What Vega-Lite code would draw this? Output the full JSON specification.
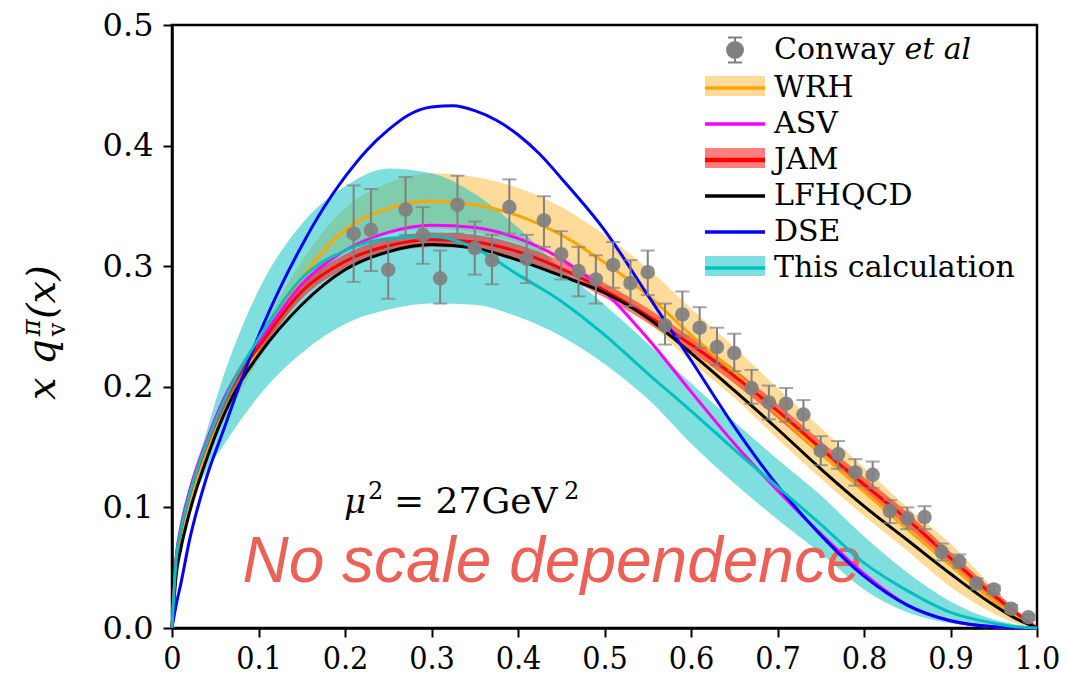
{
  "$schema": "https://vega.github.io/schema/vega-lite/v6.json",
  "width": 865,
  "height": 603,
  "autosize": "none",
  "padding": {"left": 172, "top": 25, "right": 30, "bottom": 50},
  "background": "white",
  "config": {
    "view": {"stroke": "black", "strokeWidth": 2.5},
    "axis": {
      "domainColor": "black", "domainWidth": 2.5, "tickColor": "black", "tickWidth": 2,
      "tickSize": 9, "labelColor": "black", "grid": false,
      "labelFontSize": 32, "labelFont": "DejaVu Serif"
    }
  },
  "datasets": {
    "curves": [
      {"series":"WRH","x":0,"y":0},{"series":"WRH","x":0.005,"y":0.05},{"series":"WRH","x":0.01,"y":0.07},{"series":"WRH","x":0.02,"y":0.1},{"series":"WRH","x":0.04,"y":0.145},{"series":"WRH","x":0.06,"y":0.178},{"series":"WRH","x":0.08,"y":0.205},{"series":"WRH","x":0.1,"y":0.232},{"series":"WRH","x":0.15,"y":0.29},{"series":"WRH","x":0.2,"y":0.33},{"series":"WRH","x":0.25,"y":0.348},{"series":"WRH","x":0.3,"y":0.354},{"series":"WRH","x":0.35,"y":0.351},{"series":"WRH","x":0.4,"y":0.342},{"series":"WRH","x":0.45,"y":0.326},{"series":"WRH","x":0.5,"y":0.303},{"series":"WRH","x":0.55,"y":0.276},{"series":"WRH","x":0.6,"y":0.243},{"series":"WRH","x":0.65,"y":0.212},{"series":"WRH","x":0.7,"y":0.178},{"series":"WRH","x":0.75,"y":0.145},{"series":"WRH","x":0.8,"y":0.113},{"series":"WRH","x":0.85,"y":0.082},{"series":"WRH","x":0.9,"y":0.052},{"series":"WRH","x":0.95,"y":0.022},{"series":"WRH","x":0.975,"y":0.009},{"series":"WRH","x":1,"y":0},
      {"series":"ASV","x":0,"y":0},{"series":"ASV","x":0.005,"y":0.06},{"series":"ASV","x":0.01,"y":0.083},{"series":"ASV","x":0.02,"y":0.113},{"series":"ASV","x":0.04,"y":0.155},{"series":"ASV","x":0.06,"y":0.19},{"series":"ASV","x":0.08,"y":0.215},{"series":"ASV","x":0.1,"y":0.236},{"series":"ASV","x":0.15,"y":0.285},{"series":"ASV","x":0.2,"y":0.313},{"series":"ASV","x":0.25,"y":0.328},{"series":"ASV","x":0.3,"y":0.334},{"series":"ASV","x":0.35,"y":0.332},{"series":"ASV","x":0.4,"y":0.323},{"series":"ASV","x":0.45,"y":0.306},{"series":"ASV","x":0.5,"y":0.279},{"series":"ASV","x":0.55,"y":0.24},{"series":"ASV","x":0.6,"y":0.196},{"series":"ASV","x":0.65,"y":0.153},{"series":"ASV","x":0.7,"y":0.114},{"series":"ASV","x":0.75,"y":0.078},{"series":"ASV","x":0.8,"y":0.045},{"series":"ASV","x":0.85,"y":0.019},{"series":"ASV","x":0.9,"y":0.006},{"series":"ASV","x":0.95,"y":0.001},{"series":"ASV","x":0.975,"y":0.0003},{"series":"ASV","x":1,"y":0},
      {"series":"JAM","x":0,"y":0},{"series":"JAM","x":0.005,"y":0.058},{"series":"JAM","x":0.01,"y":0.08},{"series":"JAM","x":0.02,"y":0.11},{"series":"JAM","x":0.04,"y":0.152},{"series":"JAM","x":0.06,"y":0.187},{"series":"JAM","x":0.08,"y":0.213},{"series":"JAM","x":0.1,"y":0.233},{"series":"JAM","x":0.15,"y":0.279},{"series":"JAM","x":0.2,"y":0.304},{"series":"JAM","x":0.25,"y":0.317},{"series":"JAM","x":0.3,"y":0.322},{"series":"JAM","x":0.35,"y":0.32},{"series":"JAM","x":0.4,"y":0.312},{"series":"JAM","x":0.45,"y":0.298},{"series":"JAM","x":0.5,"y":0.28},{"series":"JAM","x":0.55,"y":0.259},{"series":"JAM","x":0.6,"y":0.235},{"series":"JAM","x":0.65,"y":0.209},{"series":"JAM","x":0.7,"y":0.18},{"series":"JAM","x":0.75,"y":0.149},{"series":"JAM","x":0.8,"y":0.119},{"series":"JAM","x":0.85,"y":0.09},{"series":"JAM","x":0.9,"y":0.058},{"series":"JAM","x":0.95,"y":0.027},{"series":"JAM","x":0.975,"y":0.013},{"series":"JAM","x":1,"y":0},
      {"series":"LFHQCD","x":0,"y":0},{"series":"LFHQCD","x":0.005,"y":0.045},{"series":"LFHQCD","x":0.01,"y":0.065},{"series":"LFHQCD","x":0.02,"y":0.095},{"series":"LFHQCD","x":0.04,"y":0.14},{"series":"LFHQCD","x":0.06,"y":0.177},{"series":"LFHQCD","x":0.08,"y":0.205},{"series":"LFHQCD","x":0.1,"y":0.226},{"series":"LFHQCD","x":0.15,"y":0.268},{"series":"LFHQCD","x":0.2,"y":0.297},{"series":"LFHQCD","x":0.25,"y":0.312},{"series":"LFHQCD","x":0.3,"y":0.318},{"series":"LFHQCD","x":0.35,"y":0.315},{"series":"LFHQCD","x":0.4,"y":0.305},{"series":"LFHQCD","x":0.45,"y":0.292},{"series":"LFHQCD","x":0.5,"y":0.278},{"series":"LFHQCD","x":0.55,"y":0.257},{"series":"LFHQCD","x":0.6,"y":0.228},{"series":"LFHQCD","x":0.65,"y":0.197},{"series":"LFHQCD","x":0.7,"y":0.165},{"series":"LFHQCD","x":0.75,"y":0.132},{"series":"LFHQCD","x":0.8,"y":0.101},{"series":"LFHQCD","x":0.85,"y":0.073},{"series":"LFHQCD","x":0.9,"y":0.045},{"series":"LFHQCD","x":0.95,"y":0.019},{"series":"LFHQCD","x":0.975,"y":0.008},{"series":"LFHQCD","x":1,"y":0},
      {"series":"DSE","x":0,"y":0},{"series":"DSE","x":0.005,"y":0.02},{"series":"DSE","x":0.01,"y":0.036},{"series":"DSE","x":0.02,"y":0.072},{"series":"DSE","x":0.04,"y":0.125},{"series":"DSE","x":0.06,"y":0.165},{"series":"DSE","x":0.08,"y":0.205},{"series":"DSE","x":0.1,"y":0.242},{"series":"DSE","x":0.125,"y":0.282},{"series":"DSE","x":0.15,"y":0.317},{"series":"DSE","x":0.175,"y":0.348},{"series":"DSE","x":0.2,"y":0.374},{"series":"DSE","x":0.225,"y":0.396},{"series":"DSE","x":0.25,"y":0.413},{"series":"DSE","x":0.275,"y":0.426},{"series":"DSE","x":0.3,"y":0.432},{"series":"DSE","x":0.325,"y":0.433},{"series":"DSE","x":0.35,"y":0.429},{"series":"DSE","x":0.375,"y":0.421},{"series":"DSE","x":0.4,"y":0.409},{"series":"DSE","x":0.425,"y":0.393},{"series":"DSE","x":0.45,"y":0.373},{"series":"DSE","x":0.5,"y":0.33},{"series":"DSE","x":0.55,"y":0.276},{"series":"DSE","x":0.6,"y":0.222},{"series":"DSE","x":0.65,"y":0.167},{"series":"DSE","x":0.7,"y":0.118},{"series":"DSE","x":0.75,"y":0.077},{"series":"DSE","x":0.8,"y":0.043},{"series":"DSE","x":0.85,"y":0.019},{"series":"DSE","x":0.9,"y":0.006},{"series":"DSE","x":0.95,"y":0.001},{"series":"DSE","x":0.975,"y":0.0002},{"series":"DSE","x":1,"y":0},
      {"series":"This calculation","x":0,"y":0},{"series":"This calculation","x":0.005,"y":0.058},{"series":"This calculation","x":0.01,"y":0.08},{"series":"This calculation","x":0.02,"y":0.11},{"series":"This calculation","x":0.04,"y":0.153},{"series":"This calculation","x":0.06,"y":0.188},{"series":"This calculation","x":0.08,"y":0.216},{"series":"This calculation","x":0.1,"y":0.24},{"series":"This calculation","x":0.15,"y":0.29},{"series":"This calculation","x":0.2,"y":0.313},{"series":"This calculation","x":0.25,"y":0.323},{"series":"This calculation","x":0.3,"y":0.325},{"series":"This calculation","x":0.35,"y":0.315},{"series":"This calculation","x":0.4,"y":0.293},{"series":"This calculation","x":0.45,"y":0.271},{"series":"This calculation","x":0.5,"y":0.243},{"series":"This calculation","x":0.55,"y":0.211},{"series":"This calculation","x":0.6,"y":0.18},{"series":"This calculation","x":0.65,"y":0.148},{"series":"This calculation","x":0.7,"y":0.117},{"series":"This calculation","x":0.75,"y":0.086},{"series":"This calculation","x":0.8,"y":0.054},{"series":"This calculation","x":0.85,"y":0.031},{"series":"This calculation","x":0.9,"y":0.013},{"series":"This calculation","x":0.95,"y":0.004},{"series":"This calculation","x":0.975,"y":0.001},{"series":"This calculation","x":1,"y":0}
    ],
    "bands": [
      {"band":"WRH band","x":0,"lo":0,"hi":0},{"band":"WRH band","x":0.005,"lo":0.047,"hi":0.053},{"band":"WRH band","x":0.01,"lo":0.066,"hi":0.074},{"band":"WRH band","x":0.02,"lo":0.095,"hi":0.105},{"band":"WRH band","x":0.04,"lo":0.139,"hi":0.151},{"band":"WRH band","x":0.06,"lo":0.171,"hi":0.185},{"band":"WRH band","x":0.08,"lo":0.197,"hi":0.213},{"band":"WRH band","x":0.1,"lo":0.222,"hi":0.242},{"band":"WRH band","x":0.15,"lo":0.276,"hi":0.304},{"band":"WRH band","x":0.2,"lo":0.312,"hi":0.348},{"band":"WRH band","x":0.25,"lo":0.327,"hi":0.369},{"band":"WRH band","x":0.3,"lo":0.331,"hi":0.377},{"band":"WRH band","x":0.35,"lo":0.328,"hi":0.374},{"band":"WRH band","x":0.4,"lo":0.319,"hi":0.365},{"band":"WRH band","x":0.45,"lo":0.303,"hi":0.349},{"band":"WRH band","x":0.5,"lo":0.28,"hi":0.326},{"band":"WRH band","x":0.55,"lo":0.254,"hi":0.298},{"band":"WRH band","x":0.6,"lo":0.221,"hi":0.265},{"band":"WRH band","x":0.65,"lo":0.191,"hi":0.233},{"band":"WRH band","x":0.7,"lo":0.157,"hi":0.199},{"band":"WRH band","x":0.75,"lo":0.124,"hi":0.166},{"band":"WRH band","x":0.8,"lo":0.093,"hi":0.133},{"band":"WRH band","x":0.85,"lo":0.064,"hi":0.1},{"band":"WRH band","x":0.9,"lo":0.034,"hi":0.07},{"band":"WRH band","x":0.95,"lo":0.012,"hi":0.033},{"band":"WRH band","x":0.975,"lo":0.004,"hi":0.015},{"band":"WRH band","x":1,"lo":0,"hi":0},
      {"band":"This calculation band","x":0,"lo":0,"hi":0},{"band":"This calculation band","x":0.005,"lo":0.05,"hi":0.06},{"band":"This calculation band","x":0.01,"lo":0.07,"hi":0.083},{"band":"This calculation band","x":0.02,"lo":0.098,"hi":0.115},{"band":"This calculation band","x":0.04,"lo":0.13,"hi":0.163},{"band":"This calculation band","x":0.06,"lo":0.152,"hi":0.21},{"band":"This calculation band","x":0.08,"lo":0.173,"hi":0.248},{"band":"This calculation band","x":0.1,"lo":0.192,"hi":0.28},{"band":"This calculation band","x":0.15,"lo":0.228,"hi":0.335},{"band":"This calculation band","x":0.2,"lo":0.252,"hi":0.366},{"band":"This calculation band","x":0.25,"lo":0.264,"hi":0.381},{"band":"This calculation band","x":0.3,"lo":0.269,"hi":0.377},{"band":"This calculation band","x":0.35,"lo":0.268,"hi":0.36},{"band":"This calculation band","x":0.4,"lo":0.258,"hi":0.332},{"band":"This calculation band","x":0.45,"lo":0.242,"hi":0.298},{"band":"This calculation band","x":0.5,"lo":0.219,"hi":0.268},{"band":"This calculation band","x":0.55,"lo":0.19,"hi":0.236},{"band":"This calculation band","x":0.6,"lo":0.153,"hi":0.203},{"band":"This calculation band","x":0.65,"lo":0.12,"hi":0.171},{"band":"This calculation band","x":0.7,"lo":0.09,"hi":0.14},{"band":"This calculation band","x":0.75,"lo":0.062,"hi":0.11},{"band":"This calculation band","x":0.8,"lo":0.032,"hi":0.076},{"band":"This calculation band","x":0.85,"lo":0.013,"hi":0.046},{"band":"This calculation band","x":0.9,"lo":0.004,"hi":0.022},{"band":"This calculation band","x":0.95,"lo":0.001,"hi":0.007},{"band":"This calculation band","x":0.975,"lo":0.0003,"hi":0.003},{"band":"This calculation band","x":1,"lo":0,"hi":0},
      {"band":"JAM band","x":0,"lo":0,"hi":0},{"band":"JAM band","x":0.005,"lo":0.054,"hi":0.062},{"band":"JAM band","x":0.01,"lo":0.075,"hi":0.085},{"band":"JAM band","x":0.02,"lo":0.104,"hi":0.116},{"band":"JAM band","x":0.04,"lo":0.146,"hi":0.158},{"band":"JAM band","x":0.06,"lo":0.181,"hi":0.193},{"band":"JAM band","x":0.08,"lo":0.207,"hi":0.219},{"band":"JAM band","x":0.1,"lo":0.227,"hi":0.239},{"band":"JAM band","x":0.15,"lo":0.273,"hi":0.285},{"band":"JAM band","x":0.2,"lo":0.298,"hi":0.31},{"band":"JAM band","x":0.25,"lo":0.311,"hi":0.323},{"band":"JAM band","x":0.3,"lo":0.316,"hi":0.328},{"band":"JAM band","x":0.35,"lo":0.314,"hi":0.326},{"band":"JAM band","x":0.4,"lo":0.306,"hi":0.318},{"band":"JAM band","x":0.45,"lo":0.292,"hi":0.304},{"band":"JAM band","x":0.5,"lo":0.274,"hi":0.286},{"band":"JAM band","x":0.55,"lo":0.253,"hi":0.265},{"band":"JAM band","x":0.6,"lo":0.229,"hi":0.241},{"band":"JAM band","x":0.65,"lo":0.203,"hi":0.215},{"band":"JAM band","x":0.7,"lo":0.174,"hi":0.186},{"band":"JAM band","x":0.75,"lo":0.143,"hi":0.155},{"band":"JAM band","x":0.8,"lo":0.113,"hi":0.125},{"band":"JAM band","x":0.85,"lo":0.084,"hi":0.096},{"band":"JAM band","x":0.9,"lo":0.053,"hi":0.063},{"band":"JAM band","x":0.95,"lo":0.023,"hi":0.031},{"band":"JAM band","x":0.975,"lo":0.01,"hi":0.016},{"band":"JAM band","x":1,"lo":0,"hi":0}
    ],
    "conway": [
      {"x":0.21,"y":0.327,"lo":0.287,"hi":0.367},{"x":0.23,"y":0.33,"lo":0.296,"hi":0.364},{"x":0.25,"y":0.297,"lo":0.273,"hi":0.322},{"x":0.27,"y":0.347,"lo":0.326,"hi":0.374},{"x":0.29,"y":0.326,"lo":0.302,"hi":0.349},{"x":0.31,"y":0.29,"lo":0.269,"hi":0.313},{"x":0.33,"y":0.351,"lo":0.327,"hi":0.375},{"x":0.35,"y":0.315,"lo":0.293,"hi":0.337},{"x":0.37,"y":0.305,"lo":0.285,"hi":0.326},{"x":0.39,"y":0.349,"lo":0.327,"hi":0.372},
      {"x":0.41,"y":0.306,"lo":0.286,"hi":0.326},{"x":0.43,"y":0.338,"lo":0.316,"hi":0.358},{"x":0.45,"y":0.31,"lo":0.289,"hi":0.329},{"x":0.47,"y":0.296,"lo":0.275,"hi":0.316},{"x":0.49,"y":0.289,"lo":0.269,"hi":0.309},{"x":0.51,"y":0.301,"lo":0.282,"hi":0.32},{"x":0.53,"y":0.286,"lo":0.267,"hi":0.305},{"x":0.55,"y":0.295,"lo":0.276,"hi":0.313},{"x":0.57,"y":0.251,"lo":0.235,"hi":0.269},{"x":0.59,"y":0.26,"lo":0.242,"hi":0.279},
      {"x":0.61,"y":0.249,"lo":0.232,"hi":0.266},{"x":0.63,"y":0.233,"lo":0.218,"hi":0.249},{"x":0.65,"y":0.228,"lo":0.213,"hi":0.244},{"x":0.67,"y":0.199,"lo":0.186,"hi":0.214},{"x":0.69,"y":0.187,"lo":0.173,"hi":0.201},{"x":0.71,"y":0.186,"lo":0.171,"hi":0.199},{"x":0.73,"y":0.177,"lo":0.164,"hi":0.189},{"x":0.75,"y":0.147,"lo":0.135,"hi":0.159},{"x":0.77,"y":0.144,"lo":0.132,"hi":0.155},{"x":0.79,"y":0.129,"lo":0.118,"hi":0.14},
      {"x":0.81,"y":0.127,"lo":0.116,"hi":0.138},{"x":0.83,"y":0.097,"lo":0.087,"hi":0.106},{"x":0.85,"y":0.091,"lo":0.082,"hi":0.1},{"x":0.87,"y":0.092,"lo":0.082,"hi":0.101},{"x":0.89,"y":0.063,"lo":0.056,"hi":0.07},{"x":0.91,"y":0.055,"lo":0.05,"hi":0.061},{"x":0.93,"y":0.037,"lo":0.032,"hi":0.041},{"x":0.95,"y":0.032,"lo":0.028,"hi":0.035},{"x":0.97,"y":0.016,"lo":0.013,"hi":0.019},{"x":0.99,"y":0.009,"lo":0.007,"hi":0.011}
    ]
  },
  "layer": [
    {
      "data": {"name": "bands"},
      "transform": [{"filter": "datum.band === 'WRH band'"}],
      "mark": {"type": "area", "interpolate": "monotone", "opacity": 1},
      "encoding": {
        "x": {"field": "x", "type": "quantitative", "scale": {"domain": [0, 1], "nice": false, "zero": false},
              "axis": {"title": null, "values": [0, 0.1, 0.2, 0.3, 0.4, 0.5, 0.6, 0.7, 0.8, 0.9, 1.0],
                       "labelExpr": "datum.value === 0 ? '0' : format(datum.value, '.1f')",
                       "labelFont": "DejaVu Serif Condensed", "labelFlush": false, "labelOverlap": false, "labelPadding": 6}},
        "y": {"field": "lo", "type": "quantitative", "scale": {"domain": [0, 0.5], "nice": false},
              "axis": {"title": null, "values": [0, 0.1, 0.2, 0.3, 0.4, 0.5], "format": ".1f", "labelPadding": 10, "labelFlush": false, "labelOverlap": false}},
        "y2": {"field": "hi"},
        "fill": {"datum": "WRH band",
                 "scale": {"domain": ["conway band", "WRH band", "ASV band", "JAM band", "LFHQCD band", "DSE band", "This calculation band"],
                           "range": ["transparent", "rgba(255,165,0,0.4)", "transparent", "rgba(255,0,0,0.5)", "transparent", "transparent", "rgba(0,191,191,0.5)"]},
                 "legend": {"orient": "none", "legendX": 548, "legendY": 10, "title": null, "padding": 0,
                            "symbolType": "M-3,-1H3V1H-3Z", "symbolSize": 400, "symbolStrokeWidth": 0, "symbolOpacity": 1,
                            "labelFont": "DejaVu Serif", "labelFontSize": 30, "labelOffset": 24, "labelOpacity": 0,
                            "labelExpr": "' '", "rowPadding": 6, "zindex": 1}}
      }
    },
    {
      "data": {"name": "bands"},
      "transform": [{"filter": "datum.band === 'This calculation band'"}],
      "mark": {"type": "area", "interpolate": "monotone", "opacity": 1},
      "encoding": {
        "x": {"field": "x", "type": "quantitative"},
        "y": {"field": "lo", "type": "quantitative"},
        "y2": {"field": "hi"},
        "fill": {"datum": "This calculation band"}
      }
    },
    {
      "data": {"name": "bands"},
      "transform": [{"filter": "datum.band === 'JAM band'"}],
      "mark": {"type": "area", "interpolate": "monotone", "opacity": 1},
      "encoding": {
        "x": {"field": "x", "type": "quantitative"},
        "y": {"field": "lo", "type": "quantitative"},
        "y2": {"field": "hi"},
        "fill": {"datum": "JAM band"}
      }
    },
    {
      "data": {"values": [{}]},
      "mark": {"type": "text", "text": "No scale dependence", "font": "Liberation Sans", "fontStyle": "italic",
               "fontSize": 64, "color": "#eb6158", "align": "center", "baseline": "alphabetic"},
      "encoding": {"x": {"datum": 0.4393}, "y": {"datum": 0.0381}}
    },
    {
      "data": {"values": [{}]},
      "mark": {"type": "text", "text": "μ", "font": "DejaVu Serif", "fontStyle": "italic", "fontSize": 34, "color": "black", "align": "left", "baseline": "alphabetic"},
      "encoding": {"x": {"datum": 0.1988}, "y": {"datum": 0.0955}}
    },
    {
      "data": {"values": [{}]},
      "mark": {"type": "text", "text": "2", "font": "DejaVu Serif", "fontSize": 24, "color": "black", "align": "left", "baseline": "alphabetic"},
      "encoding": {"x": {"datum": 0.2266}, "y": {"datum": 0.107}}
    },
    {
      "data": {"values": [{}]},
      "mark": {"type": "text", "text": "= 27GeV", "font": "DejaVu Serif", "fontSize": 36, "color": "black", "align": "left", "baseline": "alphabetic"},
      "encoding": {"x": {"datum": 0.2566}, "y": {"datum": 0.0955}}
    },
    {
      "data": {"values": [{}]},
      "mark": {"type": "text", "text": "2", "font": "DejaVu Serif", "fontSize": 24, "color": "black", "align": "left", "baseline": "alphabetic"},
      "encoding": {"x": {"datum": 0.4532}, "y": {"datum": 0.107}}
    },
    {
      "data": {"name": "curves"},
      "mark": {"type": "line", "interpolate": "monotone"},
      "encoding": {
        "x": {"field": "x", "type": "quantitative"},
        "y": {"field": "y", "type": "quantitative"},
        "stroke": {"field": "series", "type": "nominal",
                   "scale": {"domain": ["Conway et al", "WRH", "ASV", "JAM", "LFHQCD", "DSE", "This calculation"],
                             "range": ["#808080", "#ffa500", "#ff00ff", "#ff0000", "#000000", "#0000ff", "#00bfbf"]},
                   "legend": {"orient": "none", "legendX": 548, "legendY": 10, "title": null, "padding": 0,
                              "symbolType": "M-3,0H3", "symbolSize": 400, "symbolStrokeWidth": 3,
                              "labelFont": "DejaVu Serif", "labelFontSize": 30, "labelColor": "black", "labelOffset": 24, "labelLimit": 400,
                              "labelExpr": "datum.label === 'Conway et al' ? 'Conway 𝑒𝑡 𝑎𝑙' : datum.label",
                              "rowPadding": 6, "zindex": 2,
                              "encode": {"symbols": {"update": {
                                "shape": {"signal": "datum.value === 'Conway et al' ? 'M-0.8,0A0.8,0.8 0 1,0 0.8,0A0.8,0.8 0 1,0 -0.8,0Z M0,-1.25V1.25 M-0.7,-1.25H0.7 M-0.7,1.25H0.7' : 'M-3,0H3'"},
                                "fill": {"signal": "datum.value === 'Conway et al' ? '#808080' : 'transparent'"},
                                "strokeWidth": {"signal": "datum.value === 'Conway et al' ? 2 : (datum.value === 'JAM' ? 4.5 : 3.5)"}
                              }}}}},
        "strokeWidth": {"field": "series", "type": "nominal",
                        "scale": {"domain": ["WRH", "ASV", "JAM", "LFHQCD", "DSE", "This calculation"], "range": [3, 3, 4.5, 3.5, 3, 4]},
                        "legend": null}
      }
    },
    {
      "data": {"name": "conway"},
      "mark": {"type": "errorbar", "ticks": {"size": 14, "thickness": 2, "color": "#808080"}, "rule": {"strokeWidth": 2, "color": "#808080"}},
      "encoding": {
        "x": {"field": "x", "type": "quantitative"},
        "y": {"field": "lo", "type": "quantitative"},
        "y2": {"field": "hi"}
      }
    },
    {
      "data": {"name": "conway"},
      "mark": {"type": "circle", "size": 210, "color": "#808080", "opacity": 0.92},
      "encoding": {
        "x": {"field": "x", "type": "quantitative"},
        "y": {"field": "y", "type": "quantitative"}
      }
    },
    {
      "data": {"values": [{}]},
      "mark": {"type": "text", "text": "x q", "font": "DejaVu Serif", "fontStyle": "italic", "fontSize": 40, "color": "black", "angle": 270, "align": "left", "baseline": "alphabetic"},
      "encoding": {"x": {"datum": -0.1353}, "y": {"datum": 0.189}}
    },
    {
      "data": {"values": [{}]},
      "mark": {"type": "text", "text": "π", "font": "DejaVu Serif", "fontSize": 26, "fontStyle": "italic", "color": "black", "angle": 270, "align": "left", "baseline": "alphabetic"},
      "encoding": {"x": {"datum": -0.1526}, "y": {"datum": 0.242}}
    },
    {
      "data": {"values": [{}]},
      "mark": {"type": "text", "text": "v", "font": "DejaVu Serif", "fontSize": 24, "color": "black", "angle": 270, "align": "left", "baseline": "alphabetic"},
      "encoding": {"x": {"datum": -0.124}, "y": {"datum": 0.242}}
    },
    {
      "data": {"values": [{}]},
      "mark": {"type": "text", "text": "(x)", "font": "DejaVu Serif", "fontStyle": "italic", "fontSize": 40, "color": "black", "angle": 270, "align": "left", "baseline": "alphabetic"},
      "encoding": {"x": {"datum": -0.1353}, "y": {"datum": 0.2562}}
    }
  ]
}
